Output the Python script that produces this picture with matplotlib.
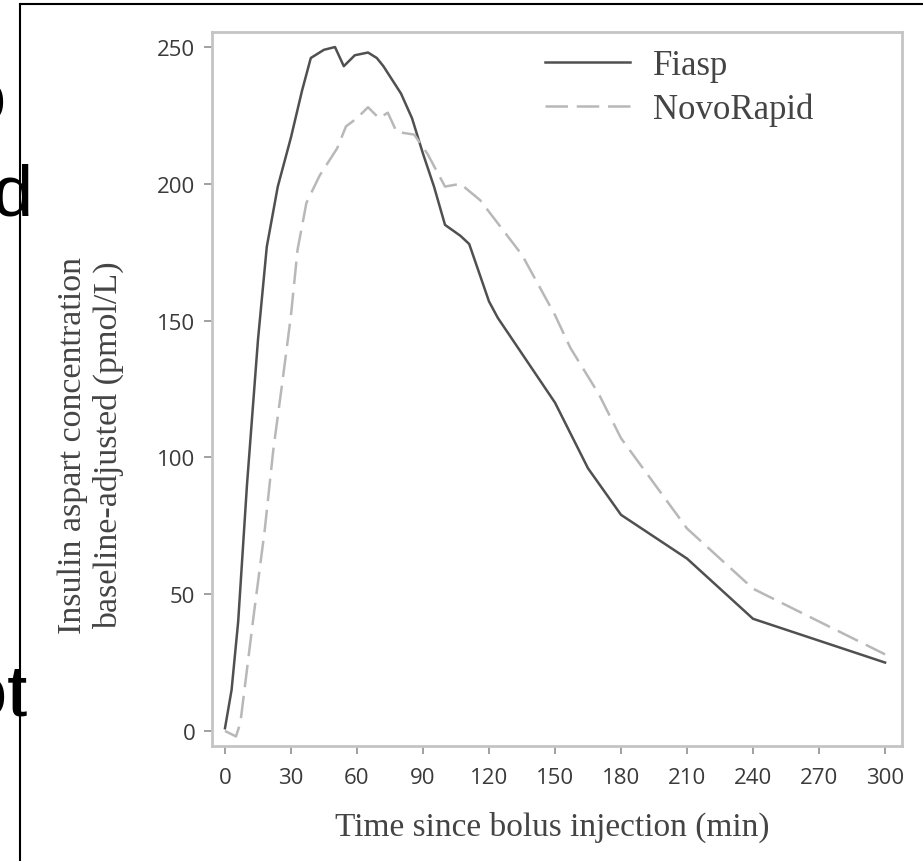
import matplotlib
matplotlib.use("Agg")
import matplotlib.pyplot as plt
from matplotlib.lines import Line2D

# values
fiasp_t = [0, 3, 6, 10, 15, 19, 24, 30, 35, 39, 45, 50, 54, 59, 65, 69, 72, 80,
           85, 90, 95, 100, 107, 111, 120, 124, 150, 165, 180, 210, 240, 300]
fiasp_c = [1, 15, 40, 90, 143, 177, 199, 217, 234, 246, 249, 250, 243, 247, 248,
           246, 243, 233, 224, 211, 199, 185, 181, 178, 157, 151, 120, 96, 79, 63, 41, 25]

novo_t = [0, 5, 7, 13, 18, 22, 26, 30, 33, 37, 43, 51, 55, 60, 65, 70, 74, 78, 86,
          92, 100, 107, 116, 135, 150, 157, 170, 180, 210, 240, 300]
novo_c = [0, -2, 3, 42, 73, 103, 127, 152, 176, 193, 203, 213, 221, 224, 228, 224,
          226, 219, 218, 211, 199, 200, 194, 174, 152, 140, 123, 107, 74, 52, 28]

x_ticks = [0, 30, 60, 90, 120, 150, 180, 210, 240, 270, 300]
y_ticks = [0, 50, 100, 150, 200, 250]
series_names = ["Fiasp", "NovoRapid"]

W, H = 923, 862
fig = plt.figure(figsize=(W / 100, H / 100), dpi=100)
ax = fig.add_axes([212 / W, (H - 747) / H, 690 / W, 714 / H])

ax.plot(fiasp_t, fiasp_c, color="#505050", lw=1.8, label=series_names[0])
ax.plot(novo_t, novo_c, color="#b8b8b8", lw=1.8, linestyle=(0, (9, 3.5)),
        label=series_names[1])

ax.set_xlim(-5.9, 307.7)
ax.set_ylim(-5.5, 255.5)
ax.set_xticks(x_ticks)
ax.set_yticks(y_ticks)

for s in ax.spines.values():
    s.set_color("#c4c4c4")
    s.set_linewidth(2)
ax.tick_params(direction="out", length=6, width=1.3, color="#999999",
               labelcolor="#3a3a3a", labelsize=16)
ax.tick_params(axis="x", pad=9)
ax.tick_params(axis="y", pad=6)
for lab in ax.get_xticklabels() + ax.get_yticklabels():
    lab.set_family("Open Sans")

serif = "Liberation Serif"
fig.text(552 / W, 1 - 827 / H, "Time since bolus injection (min)",
         ha="center", va="center", fontsize=24, family=serif, color="#444444")
fig.text(91 / W, 1 - 445 / H,
         "Insulin aspart concentration\nbaseline-adjusted (pmol/L)",
         ha="center", va="center", rotation=90, fontsize=24.5, family=serif,
         color="#444444", linespacing=1.2)

leg = ax.legend(loc="upper left", bbox_to_anchor=(545 / W, 1 - 50 / H),
                bbox_transform=fig.transFigure, frameon=False, borderpad=0,
                borderaxespad=0, handlelength=2.45, handletextpad=0.66,
                labelspacing=0.3, prop={"family": serif, "size": 25})
for t in leg.get_texts():
    t.set_color("#444444")

# cropped page around the figure
fig.add_artist(Line2D([20 / W, 20 / W], [0, 1 - 5 / H], color="black", lw=1.5,
                      transform=fig.transFigure))
fig.add_artist(Line2D([20 / W, 1], [1 - 5 / H, 1 - 5 / H], color="black", lw=1.5,
                      transform=fig.transFigure))
fig.text(6 / W, 1 - 122 / H, "o", ha="right", va="baseline", fontsize=52,
         family="Liberation Sans", color="black")
fig.text(33 / W, 1 - 215 / H, "d", ha="right", va="baseline", fontsize=52,
         family="Liberation Sans", color="black")
fig.text(27 / W, 1 - 716 / H, "ot", ha="right", va="baseline", fontsize=52,
         family="Liberation Sans", color="black")

fig.savefig("out.png", dpi=100)
